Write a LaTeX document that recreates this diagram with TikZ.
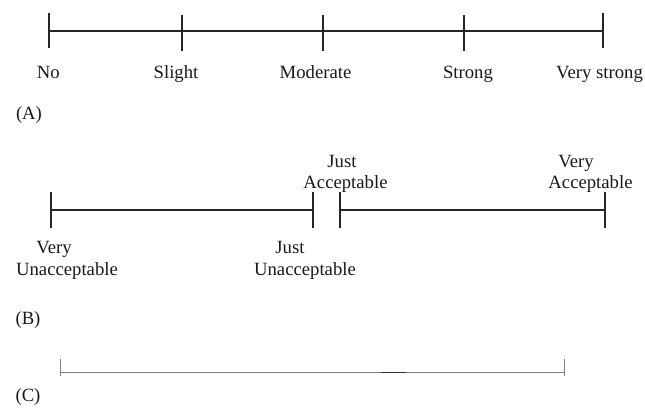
\documentclass[tikz,border=0pt]{standalone}
\usepackage{fontspec}
\setmainfont{Liberation Serif}
\begin{document}
\begin{tikzpicture}[x=1pt,y=-1pt,
  lbl/.style={anchor=base,inner sep=0pt,text=black!90,font=\fontsize{18.7}{22}\selectfont},
  scaleline/.style={draw=black!85,line width=1.8pt},
  tickline/.style={draw=black!85,line width=1.8pt},
  thinline/.style={draw=black!50,line width=1pt}]
\useasboundingbox (0,0) rectangle (645,410);
% ---- Scale A ----
\coordinate (a0) at (49.3,30.7);
\coordinate (a4) at (603.3,30.7);
\draw[scaleline] (a0) -- (a4);
\draw[tickline] (49.3,12.7) coordinate (a0t) -- (49.3,48.3) coordinate (a0b);
\draw[tickline] (181.7,15) coordinate (a1t) -- (181.7,50.7) coordinate (a1b);
\draw[tickline] (322.7,15) coordinate (a2t) -- (322.7,50.7) coordinate (a2b);
\draw[tickline] (464,15) coordinate (a3t) -- (464,50.7) coordinate (a3b);
\draw[tickline] (603.3,12.7) coordinate (a4t) -- (603.3,48.3) coordinate (a4b);
\node[lbl] (lno) at (48.3,78.3) {No};
\node[lbl] (lsl) at (176,78.3) {Slight};
\node[lbl] (lmo) at (315.5,78.3) {Moderate};
\node[lbl] (lst) at (468,78.3) {Strong};
\node[lbl] (lvs) at (599.5,78.3) {Very strong};
\node[lbl] (capA) at (29,119.3) {(A)};
% ---- Scale B ----
\coordinate (b0) at (51,210);
\coordinate (b1) at (312.7,210);
\coordinate (b2) at (340,210);
\coordinate (b3) at (605,210);
\draw[scaleline] (b0) -- (b1);
\draw[scaleline] (b2) -- (b3);
\draw[tickline] (51,192) coordinate (b0t) -- (51,228) coordinate (b0b);
\draw[tickline] (312.7,192) coordinate (b1t) -- (312.7,228) coordinate (b1b);
\draw[tickline] (340,192) coordinate (b2t) -- (340,228) coordinate (b2b);
\draw[tickline] (605,192) coordinate (b3t) -- (605,228) coordinate (b3b);
\node[lbl] (vu1) at (54,253) {Very};
\node[lbl] (vu2) at (67,275) {Unacceptable};
\node[lbl] (ju1) at (290,253) {Just};
\node[lbl] (ju2) at (305,275) {Unacceptable};
\node[lbl] (ja1) at (342,167) {Just};
\node[lbl] (ja2) at (345.5,188) {Acceptable};
\node[lbl] (va1) at (576,167) {Very};
\node[lbl] (va2) at (590.5,188) {Acceptable};
\node[lbl] (capB) at (28,324) {(B)};
% ---- Scale C ----
\coordinate (c0) at (60.7,372.7);
\coordinate (c1) at (564,372.7);
\draw[thinline] (c0) -- (c1);
\draw[thinline] (60.7,359) coordinate (c0t) -- (60.7,375.5) coordinate (c0b);
\draw[thinline] (564,359) coordinate (c1t) -- (564,375.5) coordinate (c1b);
\draw[draw=black!80,line width=1.2pt] (381,372.7) coordinate (cd0) -- (406,372.7) coordinate (cd1);
\node[lbl] (capC) at (28,401.5) {(C)};
\end{tikzpicture}
\end{document}
